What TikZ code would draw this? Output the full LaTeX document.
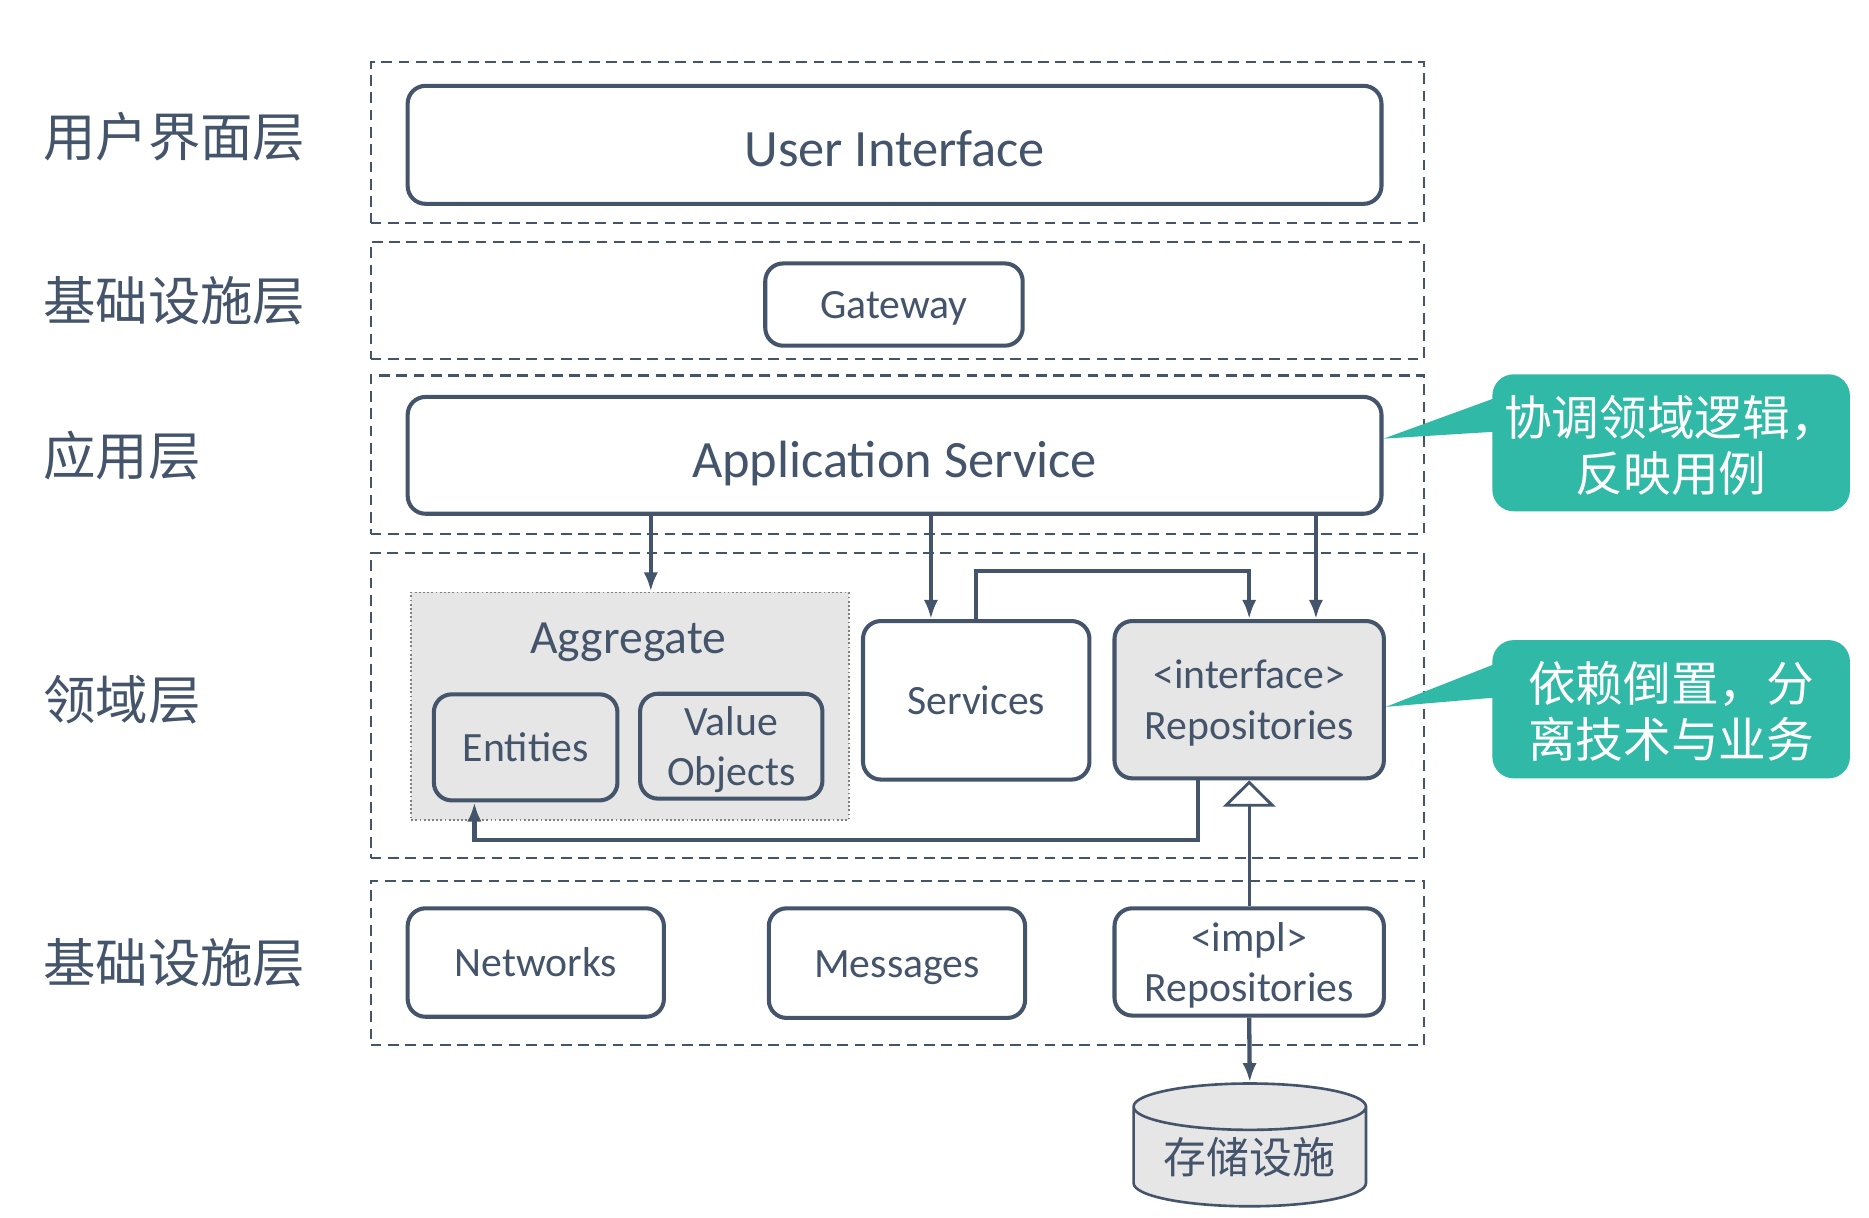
\documentclass[tikz,border=0pt]{standalone}
\usepackage{fontspec}
\setmainfont{Carlito}
\newfontfamily\cjk{Noto Sans CJK SC}
\usepackage{tikz}
\usetikzlibrary{arrows.meta}
\usetikzlibrary{shapes.geometric}

\definecolor{slate}{HTML}{44546A}
\definecolor{boxgray}{HTML}{E6E6E6}
\definecolor{noteteal}{HTML}{31B9A7}

\begin{document}
\begin{tikzpicture}[x=1pt,y=-1pt,
        layer/.style={draw=slate, line width=1.8pt, dash pattern=on 9pt off 5.5pt, minimum width=884pt, inner sep=0pt},
        box/.style={draw=slate, line width=3.4pt, rounded corners=15pt, fill=white, text=slate, inner sep=0pt, align=center,
            text height=24pt, text depth=0pt, font=\fontsize{35}{42}\selectfont},
        twolines/.style={text height=66pt},
        bigbox/.style={box, minimum width=817pt, text height=37pt, font=\fontsize{44}{52}\selectfont},
        graybox/.style={box, fill=boxgray},
        lbl/.style={anchor=west, inner sep=0pt, text=slate, font=\cjk\fontsize{44}{52}\selectfont},
        note/.style={fill=noteteal, rounded corners=18pt, minimum width=300pt, inner sep=0pt, text=white, align=center,
            text height=81pt, text depth=0pt, font=\cjk\fontsize{40}{47}\selectfont},
        arr/.style={draw=slate, line width=3.6pt, -{Latex[length=16pt,width=12pt]}}]
        \useasboundingbox (0,0) rectangle (1568,1021);

        % layers
        \node[layer, minimum height=135pt] (uilayer) at (753,119.5) {};
        \node[layer, minimum height=98pt] (gwlayer) at (753,252) {};
        \node[layer, minimum height=133pt] (applayer) at (753,381.5) {};
        \node[layer, minimum height=256pt] (domainlayer) at (753,592) {};
        \node[layer, minimum height=138pt] (infralayer) at (753,808) {};

        \node[lbl] (uilbl) at (36,115) {用户界面层};
        \node[lbl] (gwlbl) at (36,252) {基础设施层};
        \node[lbl] (applbl) at (36,382) {应用层};
        \node[lbl] (domainlbl) at (36,587) {领域层};
        \node[lbl] (infralbl) at (36,808) {基础设施层};

        \node[bigbox, minimum height=99pt] (ui) at (750.5,121.5) {User Interface};
        \node[box, minimum width=216pt, minimum height=69pt] (gateway) at (750,255.5) {Gateway};
        \node[bigbox, minimum height=98pt] (app) at (750.5,382) {Application Service};

        % domain
        \node[draw=gray, fill=boxgray, line width=1.5pt, dotted, minimum width=367pt, minimum height=191pt] (agg) at (528.5,592.5) {};
        \node[text=slate, font=\fontsize{40}{48}\selectfont] (aggtitle) at (527,539) {Aggregate};
        \node[graybox, minimum width=154pt, minimum height=89pt] (entities) at (441,627) {Entities};
        \node[graybox, twolines, minimum width=153pt, minimum height=88pt] (values) at (613.5,626) {Value\\Objects};
        \node[box, minimum width=190pt, minimum height=133pt] (services) at (819,587.5) {Services};
        \node[graybox, twolines, minimum width=226pt, minimum height=132pt] (irepo) at (1048,587) {<interface>\\Repositories};

        % infrastructure
        \node[box, minimum width=215pt, minimum height=91pt] (networks) at (449.5,807.5) {Networks};
        \node[box, minimum width=215pt, minimum height=92pt] (messages) at (752.5,808) {Messages};
        \node[box, twolines, minimum width=226pt, minimum height=90pt] (prepo) at (1048,807) {<impl>\\Repositories};
        \node[cylinder, shape border rotate=90, aspect=0.27, draw=slate, fill=boxgray, line width=2.2pt, anchor=shape center,
            minimum width=195pt, minimum height=103pt, inner sep=0pt, text=slate, font=\cjk\fontsize{36}{42}\selectfont] (store) at (1048.5,960.5) {存储设施};

        \draw[arr] (546,0 |- app.south) -- (546,0 |- agg.north);
        \draw[arr] (781,0 |- app.south) -- (781,0 |- services.north);
        \draw[arr] (1104,0 |- app.south) -- (1104,0 |- irepo.north);
        \draw[arr] (services.north) -- ++(0,-40) -| (irepo.north);
        \draw[arr] (1005,0 |- irepo.south) -- (1005,705) -| (398,0 |- entities.south);
        \draw[draw=slate, line width=2.4pt, -{Triangle[open, length=22pt, width=44pt]}] (prepo.north) -- (irepo.south);
        \draw[arr] (prepo.south) -- (store.north);

        % notes
        \node[note, minimum height=115pt] (note1) at (1402,371.5) {协调领域逻辑，\\反映用例};
        \node[note, minimum height=116pt] (note2) at (1402,595) {依赖倒置，分\\离技术与业务};
        \fill[noteteal] ([xshift=5pt]note1.west |- 0,333) -- (app.east |- 0,368) -- ([xshift=5pt]note1.west |- 0,362) -- cycle;
        \fill[noteteal] ([xshift=5pt]note2.west |- 0,556) -- (irepo.east |- 0,593) -- ([xshift=5pt]note2.west |- 0,585) -- cycle;
    \end{tikzpicture}
\end{document}
